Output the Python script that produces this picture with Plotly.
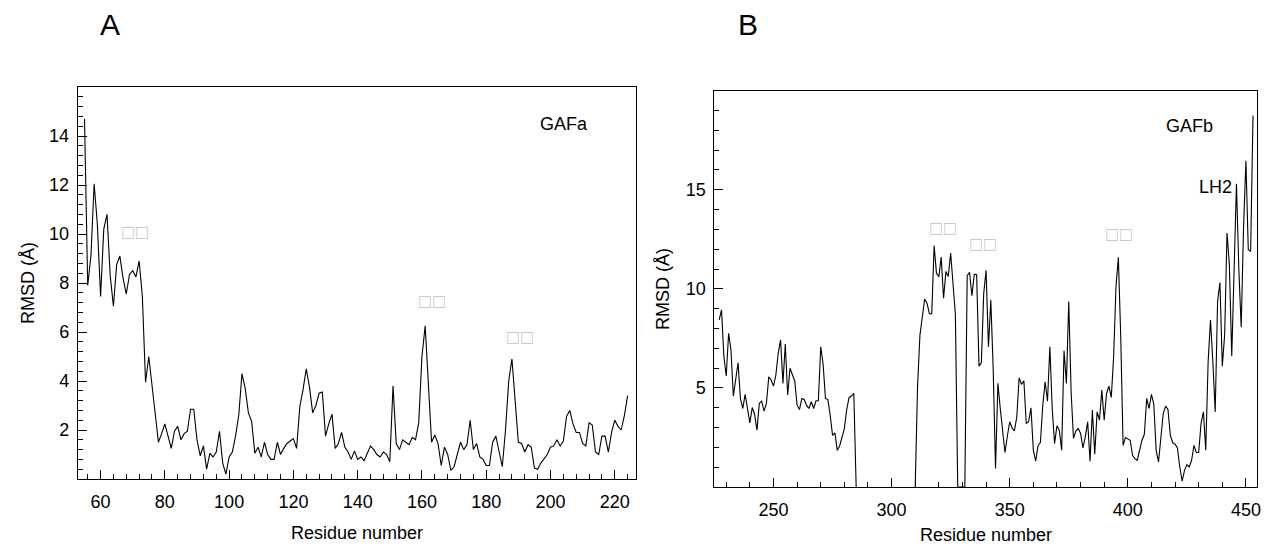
import plotly.graph_objects as go

# ---------------- data ----------------
res_a = list(range(55, 225))
rmsd_a = [
    14.7, 7.9, 9.1, 12.05, 10.4, 7.45, 10.2, 10.8, 8.3, 7.05,
    8.75, 9.1, 8.2, 7.55, 8.35, 8.5, 8.25, 8.9, 7.45, 3.95,
    5.0, 3.75, 2.55, 1.5, 1.85, 2.25, 1.75, 1.25, 1.95, 2.15,
    1.6, 1.85, 1.95, 2.85, 2.85, 1.6, 0.95, 1.35, 0.4, 1.05,
    0.9, 1.1, 1.95, 0.65, 0.2, 0.9, 1.1, 1.75, 2.6, 4.3,
    3.7, 2.7, 2.35, 1.05, 1.3, 0.9, 1.5, 1.0, 0.8, 0.8,
    1.5, 1.0, 1.25, 1.45, 1.55, 1.65, 1.25, 2.95, 3.65, 4.5,
    3.75, 2.7, 3.0, 3.5, 3.55, 1.75, 2.25, 2.65, 1.25, 1.45,
    1.9, 1.3, 1.1, 0.8, 1.15, 0.8, 0.9, 0.75, 1.05, 1.35,
    1.2, 1.0, 0.9, 1.1, 1.0, 0.7, 3.8, 1.45, 1.2, 1.6,
    1.5, 1.4, 1.7, 1.6, 2.3, 5.0, 6.25, 3.65, 1.5, 1.8,
    1.45, 0.55, 1.3, 1.0, 0.35, 0.5, 1.0, 1.5, 1.2, 1.4,
    2.4, 1.2, 1.45, 0.9, 0.8, 0.55, 0.55, 1.5, 1.75, 1.15,
    0.5, 2.0, 4.0, 4.9, 3.25, 1.5, 1.45, 1.1, 1.4, 1.3,
    0.45, 0.4, 0.65, 0.85, 1.0, 1.3, 1.35, 1.6, 1.35, 1.55,
    2.55, 2.8, 2.25, 1.9, 1.9, 1.45, 1.35, 2.3, 2.2, 1.1,
    1.0, 1.75, 1.75, 1.1, 1.9, 2.4, 2.15, 2.0, 2.6, 3.4,
]

res_b = list(range(227, 454))
rmsd_b = [
    8.43, 8.94, 6.58, 5.6, 7.76, 6.91, 4.59, 5.4, 6.27, 4.47,
    3.96, 4.67, 4.05, 3.24, 4.01, 3.66, 2.87, 4.22, 4.33, 3.83,
    4.22, 5.56, 5.4, 5.09, 5.65, 6.75, 7.42, 5.23, 7.22, 4.64,
    5.99, 5.65, 5.35, 4.13, 3.91, 4.47, 4.42, 4.13, 3.96, 4.3,
    3.96, 4.35, 4.35, 7.08, 6.21, 4.47, 4.42, 3.63, 2.61, 2.73,
    1.85, 2.07, 2.48, 2.95, 3.91, 4.52, 4.59, 4.72, 0, None,
    None, None, None, None, None, None, None, None, None, None,
    None, None, None, None, None, None, None, None, None, None,
    None, None, None, 0, 5.14, 7.67, 8.57, 9.49, 9.27, 8.74,
    8.74, 12.18, 10.79, 10.62, 11.6, 9.53, 10.88, 10.62, 11.8, 10.32,
    8.72, 0, 0, 0, 0, 10.67, 10.84, 9.65, 10.74, 10.71,
    6.1, 6.27, 9.78, 10.93, 7.08, 9.44, 6.0, 0.93, 5.23, 3.96,
    2.7, 1.74, 2.56, 3.29, 2.98, 2.83, 3.54, 5.51, 5.18, 5.36,
    3.2, 3.29, 4.0, 1.85, 1.3, 2.1, 2.24, 4.13, 5.31, 4.33,
    7.08, 3.96, 2.19, 3.09, 2.87, 1.85, 6.88, 5.23, 9.36, 4.81,
    2.45, 2.82, 2.95, 2.7, 1.97, 2.53, 3.29, 1.3, 3.88, 1.65,
    3.79, 3.37, 4.89, 3.37, 4.72, 5.09, 4.52, 6.58, 10.12, 11.59,
    7.59, 2.1, 2.5, 2.41, 2.36, 1.6, 1.43, 1.35, 1.85, 2.36,
    2.66, 4.47, 3.96, 4.67, 4.18, 1.85, 1.26, 2.7, 3.71, 4.08,
    3.91, 2.61, 2.24, 2.16, 1.97, 1.01, 0.29, 0.84, 1.13, 1.01,
    1.35, 2.1, 1.74, 1.74, 3.2, 3.79, 1.85, 6.32, 8.43, 6.32,
    3.79, 9.36, 10.32, 6.1, 7.67, 12.82, 11.21, 6.61, 11.05, 15.3,
    11.0, 8.06, 13.1, 16.47, 11.97, 11.89, 18.75,
]

ticks_a_y = [2, 4, 6, 8, 10, 12, 14]
ticks_b_y = [5, 10, 15]

# labels placed in data coordinates: (text, x, y)
labels_a = [("GAFa", 204.3, 14.5)]
boxes_a = [(70.6, 10.1), (163.0, 7.27), (190.6, 5.8)]
labels_b = [("GAFb", 426.0, 18.2), ("LH2", 437.0, 15.16)]
boxes_b = [(321.7, 13.08), (338.6, 12.27), (396.4, 12.78)]
box_text = "\u25a1\u25a1"

# ---------------- figure ----------------
W, H = 1267, 546
FONT = "Liberation Sans, Arial, sans-serif"


def fx(p):
    return p / W


def fy(p):
    return 1 - p / H


fig = go.Figure()
fig.add_trace(go.Scatter(x=res_a, y=rmsd_a, mode="lines",
                         line=dict(color="black", width=1.1),
                         xaxis="x", yaxis="y", hoverinfo="skip"))
fig.add_trace(go.Scatter(x=res_b, y=rmsd_b, mode="lines",
                         line=dict(color="black", width=1.1),
                         connectgaps=False,
                         xaxis="x2", yaxis="y2", hoverinfo="skip"))

common = dict(showline=True, linecolor="black", linewidth=1, mirror=True,
              ticks="inside", ticklen=9, tickwidth=1, tickcolor="black",
              showgrid=False, zeroline=False,
              tickfont=dict(family=FONT, size=18, color="black"))


def minor(d):
    return dict(dtick=d, tick0=0, ticklen=5, tickwidth=1, ticks="inside",
                tickcolor="black", showgrid=False)


fig.update_layout(
    width=W, height=H, margin=dict(l=0, r=0, t=0, b=0),
    paper_bgcolor="white", plot_bgcolor="white", showlegend=False,
    xaxis=dict(domain=[fx(78), fx(638)], range=[52.9, 226.6], anchor="y",
               tickmode="linear", tick0=0, dtick=20, minor=minor(4),
               ticklabelstandoff=6, **common),
    yaxis=dict(domain=[fy(479), fy(87)], range=[0, 16], anchor="x",
               tickmode="array", tickvals=ticks_a_y, minor=minor(0.4),
               ticklabelstandoff=4, **common),
    xaxis2=dict(domain=[fx(716.7), fx(1261)], range=[225.0, 454.7], anchor="y2",
                tickmode="linear", tick0=0, dtick=50, minor=minor(10),
                ticklabelstandoff=6, **common),
    yaxis2=dict(domain=[fy(487), fy(90.7)], range=[0, 20], anchor="x2",
                tickmode="array", tickvals=ticks_b_y, minor=minor(1),
                ticklabelstandoff=4, **common),
)

C = dict(xanchor="center", yanchor="middle", showarrow=False)
ann = []
# panel letters
ann.append(dict(text="A", x=fx(110), y=fy(25), xref="paper", yref="paper",
                font=dict(family=FONT, size=30, color="black"), **C))
ann.append(dict(text="B", x=fx(750), y=fy(25), xref="paper", yref="paper",
                font=dict(family=FONT, size=30, color="black"), **C))
# axis titles
for (xx, yy) in [(358, 533), (989, 535)]:
    ann.append(dict(text="Residue number", x=fx(xx), y=fy(yy), xref="paper", yref="paper",
                    font=dict(family=FONT, size=18, color="black"), **C))
for (xx, yy) in [(28, 283), (665, 289)]:
    ann.append(dict(text="RMSD (Å)", x=fx(xx), y=fy(yy), xref="paper", yref="paper",
                    textangle=-90, font=dict(family=FONT, size=18, color="black"), **C))
# in-plot labels
for (t, xx, yy) in labels_a:
    ann.append(dict(text=t, x=xx, y=yy, xref="x", yref="y",
                    font=dict(family=FONT, size=18, color="black"), **C))
for (t, xx, yy) in labels_b:
    ann.append(dict(text=t, x=xx, y=yy, xref="x2", yref="y2",
                    font=dict(family=FONT, size=18, color="black"), **C))
BOXFONT = dict(family="Noto Sans CJK SC", size=14, color="#a8a8a8")
for (xx, yy) in boxes_a:
    ann.append(dict(text=box_text, x=xx, y=yy, xref="x", yref="y", font=BOXFONT, **C))
for (xx, yy) in boxes_b:
    ann.append(dict(text=box_text, x=xx, y=yy, xref="x2", yref="y2", font=BOXFONT, **C))

fig.update_layout(annotations=ann)
fig.write_html("out.html", config={"displayModeBar": False},
               post_script="document.body.style.margin='0px';")
